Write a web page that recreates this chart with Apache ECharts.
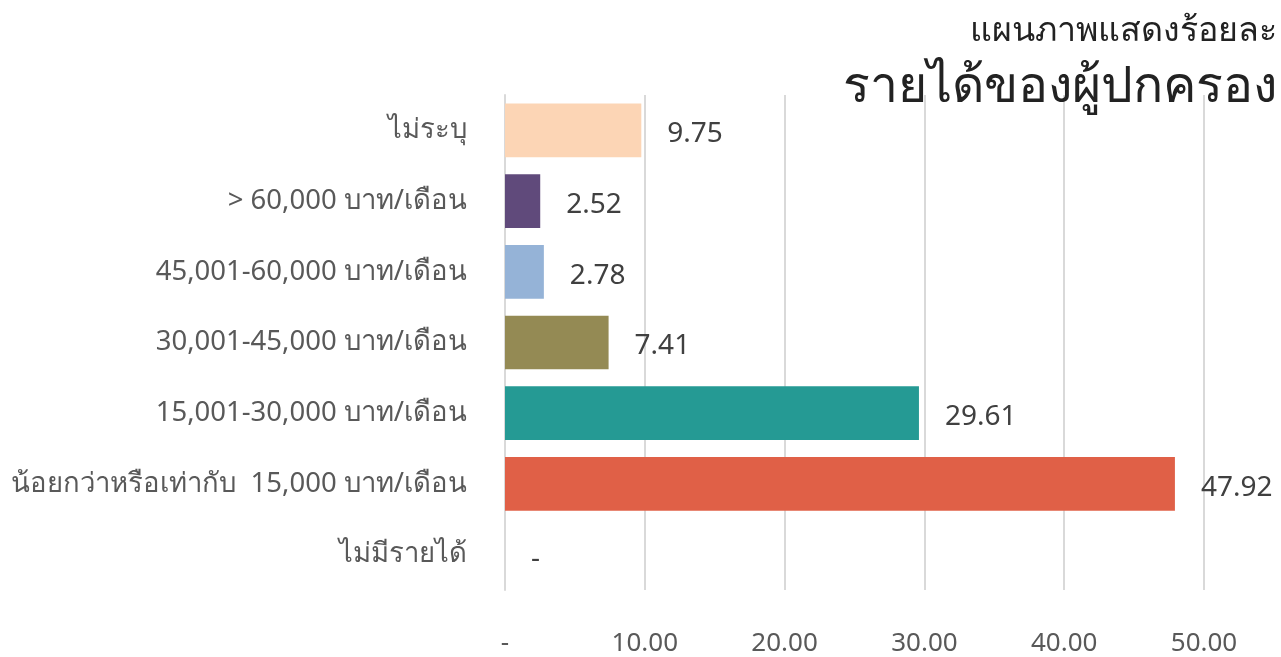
<!DOCTYPE html>
<html>
<head>
<meta charset="utf-8">
<script src="https://cdn.jsdelivr.net/npm/echarts@6/dist/echarts.min.js"></script>
<style>
  html, body { margin: 0; padding: 0; background: #fff; }
  #main { width: 1281px; height: 657px; }
</style>
</head>
<body>
<div id="main"></div>
<script>
// income groups, top to bottom
var categories = [
  'ไม่ระบุ',
  '> 60,000 บาท/เดือน',
  '45,001-60,000 บาท/เดือน',
  '30,001-45,000 บาท/เดือน',
  '15,001-30,000 บาท/เดือน',
  'น้อยกว่าหรือเท่ากับ  15,000 บาท/เดือน',
  'ไม่มีรายได้'
];
var percents = [9.75, 2.52, 2.78, 7.41, 29.61, 47.92, 0];
var barColors = ['#FCD5B5', '#604A7B', '#95B3D7', '#948A54', '#259A94', '#E06047', '#999999'];
var tickLabels = ['-', '10.00', '20.00', '30.00', '40.00', '50.00'];

var fontFamily = '"Noto Sans", "Open Sans", sans-serif';

var chart = echarts.init(document.getElementById('main'));

var option = {
  backgroundColor: '#ffffff',
  textStyle: { fontFamily: fontFamily },
  title: [
    {
      text: 'แผนภาพแสดงร้อยละ',
      right: 4,
      top: 14,
      padding: 0,
      textStyle: { fontSize: 34, fontWeight: 'normal', color: '#222222', fontFamily: fontFamily }
    },
    {
      text: 'รายได้ของผู้ปกครอง',
      right: 4,
      top: 63,
      padding: 0,
      textStyle: { fontSize: 50, fontWeight: 'normal', color: '#222222', fontFamily: fontFamily }
    }
  ],
  grid: {
    left: 505,
    right: 77,
    top: 95,
    bottom: 67,
    outerBoundsMode: 'none'
  },
  xAxis: {
    type: 'value',
    min: 0,
    max: 50,
    interval: 10,
    axisLine: { show: false },
    axisTick: { show: false },
    splitLine: { show: true, lineStyle: { color: '#D9D9D9', width: 2 } },
    axisLabel: {
      margin: 41,
      fontSize: 26,
      color: '#595959',
      formatter: function (v) { return tickLabels[Math.round(v / 10)]; }
    }
  },
  yAxis: {
    type: 'category',
    data: categories,
    inverse: true,
    axisLine: { show: true, lineStyle: { color: '#D9D9D9', width: 2 } },
    axisTick: { show: false },
    axisLabel: {
      margin: 38,
      fontSize: 27.5,
      color: '#595959',
      padding: [8, 0, 0, 0]
    }
  },
  series: [
    {
      type: 'bar',
      barCategoryGap: '24%',
      data: percents.map(function (v, i) {
        return { value: v, itemStyle: { color: barColors[i] } };
      }),
      label: {
        show: true,
        position: 'right',
        distance: 26,
        offset: [0, 4],
        fontSize: 28,
        color: '#404040',
        formatter: function (p) { return p.value === 0 ? '-' : p.value.toFixed(2); }
      }
    }
  ]
};

chart.setOption(option);
</script>
</body>
</html>
